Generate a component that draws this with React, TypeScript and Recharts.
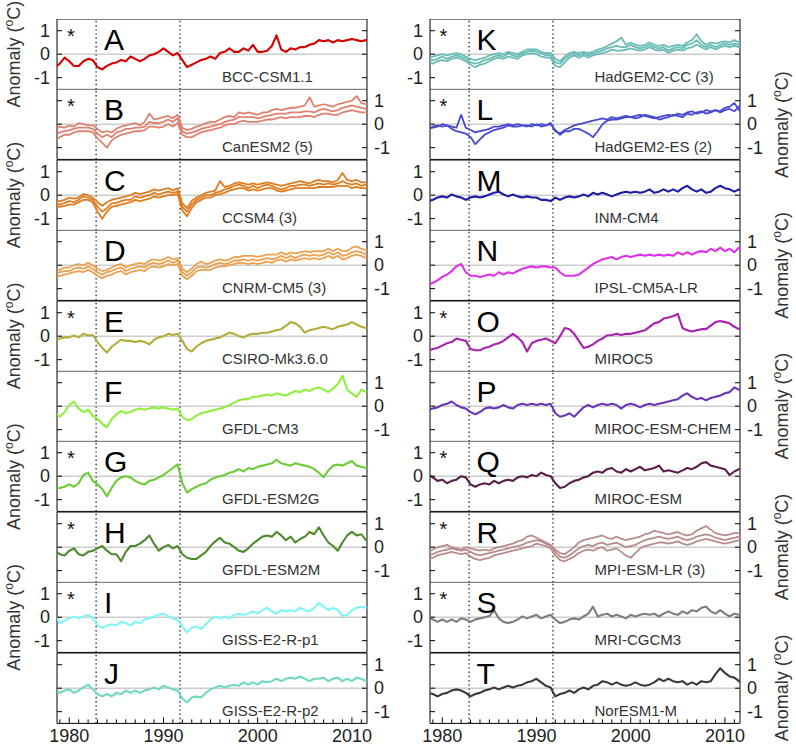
import React from "react";
import { LineChart, Line, XAxis, YAxis, ReferenceLine, ReferenceArea } from "recharts";

// x grid: half-year steps from 1978.5 to 2012.0 (68 points)
const YEARS: number[] = Array.from({ length: 68 }, (_, i) => 1978.5 + i * 0.5);
const X_DOMAIN: [number, number] = [1978.7, 2011.6];
const Y_DOMAIN: [number, number] = [-1.5, 1.5];
const YEAR_LABELS = [1980, 1990, 2000, 2010];
const MINOR_YEARS = Array.from({ length: 33 }, (_, i) => 1979 + i);
const Y_TICKS = [-1, 0, 1];
const ERUPTIONS = [1982.85, 1991.75];

// ---- series (anomaly, °C) ----
const A_BCC = [-0.55,-0.4,-0.15,
 -0.3,-0.5,-0.5,-0.3,-0.2, -0.25,-0.55,-0.65,-0.5,-0.4, -0.35,-0.25,-0.3,-0.1,-0.2, -0.3,-0.2,-0.05,0.0,0.1,
 0.25,0.1,-0.05,0.05,-0.25, -0.55,-0.45,-0.35,-0.25,-0.2, -0.1,-0.2,0.05,0.1,0.25, 0.1,0.1,0.25,0.15,0.4,
 0.1,0.1,0.15,0.35,0.8, 0.2,0.1,0.25,0.2,0.3, 0.3,0.4,0.45,0.6,0.55, 0.6,0.5,0.6,0.55,0.6,
 0.65,0.6,0.55,0.6,0.55];
const B_CAN1 = [-0.25,-0.1,-0.15,
 -0.05,-0.1,0.05,0.0,-0.05, -0.05,-0.2,-0.35,-0.3,-0.35, -0.2,-0.1,-0.05,0.0,0.05, -0.05,0.1,0.45,0.2,0.25,
 0.3,0.35,0.25,0.4,-0.15, -0.25,-0.2,-0.1,-0.05,0.05, 0.1,0.1,0.2,0.3,0.35, 0.3,0.5,0.45,0.5,0.45,
 0.4,0.5,0.5,0.6,0.65, 0.6,0.65,0.7,0.7,0.75, 0.8,1.15,0.75,0.8,0.85, 0.8,0.75,0.85,0.9,0.95,
 1.0,1.2,0.9,0.85,0.8];
const B_CAN2 = [-0.45,-0.35,-0.3,
 -0.25,-0.2,-0.15,-0.15,-0.15, -0.2,-0.4,-0.55,-0.45,-0.55, -0.35,-0.3,-0.2,-0.2,-0.15, -0.15,-0.1,0.1,0.05,0.05,
 0.1,0.2,0.1,0.25,-0.3, -0.4,-0.35,-0.3,-0.2,-0.15, -0.1,-0.05,0.0,0.1,0.15, 0.2,0.3,0.3,0.3,0.3,
 0.25,0.3,0.35,0.4,0.45, 0.45,0.45,0.5,0.5,0.5, 0.55,0.55,0.5,0.6,0.65, 0.6,0.55,0.6,0.7,0.75,
 0.8,0.75,0.7,0.65,0.65];
const B_CAN3 = [-0.7,-0.55,-0.45,
 -0.45,-0.35,-0.3,-0.3,-0.3, -0.35,-0.6,-0.8,-1.0,-0.7, -0.55,-0.45,-0.4,-0.35,-0.3, -0.3,-0.25,-0.1,-0.1,-0.15,
 -0.1,0.0,-0.1,0.05,-0.45, -0.55,-0.55,-0.45,-0.35,-0.3, -0.25,-0.2,-0.15,-0.05,0.0, 0.0,0.1,0.15,0.1,0.1,
 0.1,0.15,0.2,0.2,0.25, 0.3,0.25,0.3,0.3,0.3, 0.35,0.35,0.3,0.4,0.45, 0.45,0.4,0.4,0.5,0.55,
 0.6,0.55,0.5,0.5,0.45];
const C_CCSM1 = [-0.2,-0.25,-0.2,
 -0.1,-0.15,-0.1,0.05,0.0, -0.1,-0.3,-0.45,-0.3,-0.2, -0.15,-0.1,-0.05,0.0,0.1, 0.05,0.1,0.15,0.25,0.2,
 0.25,0.3,0.2,0.3,-0.35, -0.55,-0.25,-0.1,0.0,0.1, 0.15,0.2,0.6,0.35,0.4, 0.5,0.55,0.5,0.45,0.5,
 0.45,0.5,0.55,0.5,0.45, 0.4,0.45,0.5,0.55,0.6, 0.55,0.5,0.6,0.65,0.6, 0.6,0.55,0.65,0.95,0.65,
 0.6,0.65,0.55,0.55,0.55];
const C_CCSM2 = [-0.33,-0.4,-0.33,
 -0.25,-0.3,-0.2,-0.05,-0.1, -0.2,-0.5,-0.7,-0.55,-0.35, -0.33,-0.25,-0.2,-0.2,-0.05, -0.1,-0.05,0.0,0.1,0.03,
 0.1,0.15,0.1,0.15,-0.5, -0.7,-0.4,-0.2,-0.1,0.0, 0.0,0.1,0.15,0.25,0.3, 0.4,0.45,0.4,0.3,0.4,
 0.3,0.4,0.45,0.4,0.3, 0.25,0.3,0.4,0.4,0.45, 0.45,0.4,0.45,0.5,0.45, 0.5,0.45,0.5,0.6,0.5,
 0.45,0.5,0.4,0.45,0.45];
const C_CCSM3 = [-0.45,-0.5,-0.45,
 -0.4,-0.4,-0.3,-0.2,-0.2, -0.3,-0.7,-1.0,-0.7,-0.5, -0.45,-0.4,-0.35,-0.3,-0.2, -0.25,-0.2,-0.15,-0.05,-0.1,
 -0.05,0.0,0.0,0.05,-0.65, -0.9,-0.55,-0.3,-0.2,-0.1, -0.1,0.0,0.05,0.1,0.2, 0.25,0.3,0.3,0.2,0.25,
 0.2,0.25,0.3,0.3,0.2, 0.15,0.2,0.25,0.3,0.3, 0.3,0.3,0.3,0.35,0.35, 0.35,0.35,0.4,0.4,0.4,
 0.3,0.35,0.3,0.3,0.35];
const D_CNRM1 = [-0.25,-0.2,-0.1,
 -0.1,0.0,0.05,0.0,0.1, 0.0,-0.15,-0.25,-0.2,-0.1, 0.0,0.05,-0.1,0.0,0.05, 0.1,0.05,0.2,0.25,0.2,
 0.25,0.35,0.25,0.3,-0.15, -0.3,-0.15,0.05,0.15,0.05, 0.1,0.2,0.25,0.2,0.25, 0.35,0.35,0.4,0.4,0.4,
 0.35,0.4,0.45,0.45,0.45, 0.55,0.45,0.55,0.5,0.55, 0.6,0.55,0.6,0.6,0.6, 0.7,0.6,0.7,0.6,0.6,
 0.75,0.8,0.7,0.65,0.7];
const D_CNRM2 = [-0.4,-0.3,-0.25,
 -0.25,-0.15,-0.1,-0.15,-0.05, -0.15,-0.3,-0.4,-0.3,-0.25, -0.15,-0.1,-0.25,-0.15,-0.1, -0.05,-0.1,0.05,0.1,0.05,
 0.1,0.2,0.1,0.2,-0.3, -0.45,-0.3,-0.1,-0.05,-0.1, -0.05,0.05,0.1,0.05,0.1, 0.2,0.2,0.25,0.2,0.25,
 0.2,0.25,0.3,0.25,0.3, 0.4,0.3,0.4,0.3,0.4, 0.45,0.4,0.45,0.4,0.45, 0.55,0.45,0.55,0.4,0.45,
 0.55,0.6,0.55,0.45,0.55];
const D_CNRM3 = [-0.55,-0.45,-0.4,
 -0.35,-0.3,-0.25,-0.3,-0.2, -0.3,-0.45,-0.55,-0.45,-0.4, -0.3,-0.25,-0.4,-0.3,-0.25, -0.2,-0.25,-0.1,-0.05,-0.1,
 -0.05,0.05,0.0,0.05,-0.45, -0.6,-0.45,-0.25,-0.2,-0.2, -0.2,-0.1,-0.05,-0.05,0.0, 0.05,0.1,0.1,0.05,0.1,
 0.05,0.1,0.15,0.1,0.2, 0.25,0.15,0.25,0.2,0.25, 0.3,0.25,0.3,0.25,0.3, 0.4,0.3,0.4,0.25,0.3,
 0.4,0.45,0.4,0.3,0.4];
const E_CSIRO = [-0.2,-0.1,-0.05,
 -0.05,0.03,-0.05,0.1,0.03, 0.05,-0.25,-0.5,-0.7,-0.45, -0.3,-0.15,-0.2,-0.2,-0.25, -0.2,-0.25,-0.35,-0.15,-0.05,
 0.0,0.1,0.05,0.1,-0.2, -0.55,-0.65,-0.45,-0.3,-0.2, -0.15,-0.1,-0.05,0.05,0.15, 0.1,0.0,-0.05,0.05,0.1,
 0.1,0.15,0.15,0.2,0.25, 0.3,0.45,0.6,0.55,0.4, 0.15,0.25,0.3,0.35,0.4, 0.35,0.3,0.4,0.45,0.5,
 0.6,0.5,0.4,0.35,0.3];
const F_GFDLCM3 = [-0.3,-0.45,-0.25,
 0.05,0.2,-0.1,-0.25,-0.15, -0.4,-0.55,-0.75,-0.9,-0.55, -0.35,-0.2,-0.3,-0.25,-0.15, -0.1,-0.15,-0.1,-0.05,-0.1,
 -0.05,-0.1,-0.15,-0.1,-0.45, -0.6,-0.55,-0.4,-0.3,-0.25, -0.2,-0.15,-0.1,-0.05,0.05, 0.15,0.25,0.3,0.3,0.4,
 0.4,0.45,0.5,0.45,0.55, 0.5,0.45,0.55,0.65,0.6, 0.7,0.65,0.75,0.8,0.7, 0.6,0.75,0.95,1.3,0.7,
 0.55,0.4,0.7,0.6,0.7];
const G_ESM2G = [-0.5,-0.5,-0.45,
 -0.35,-0.45,-0.3,0.05,0.15, -0.2,-0.35,-0.55,-0.85,-0.5, -0.2,-0.05,0.0,-0.05,-0.2, -0.3,-0.35,-0.2,-0.15,-0.05,
 0.05,0.2,0.35,0.5,-0.3, -0.7,-0.55,-0.45,-0.35,-0.3, -0.15,-0.05,0.0,0.05,0.15, 0.2,0.3,0.2,0.35,0.3,
 0.4,0.45,0.5,0.55,0.7, 0.55,0.5,0.45,0.55,0.5, 0.45,0.4,0.3,0.15,-0.05, 0.25,0.45,0.5,0.45,0.55,
 0.65,0.45,0.4,0.35,0.4];
const H_ESM2M = [-0.15,-0.3,-0.35,
 -0.15,-0.05,-0.3,-0.35,-0.2, -0.15,-0.05,0.05,-0.15,-0.3, -0.3,-0.6,-0.2,0.05,0.05, 0.15,0.3,0.5,0.15,-0.15,
 0.0,0.1,-0.05,0.05,-0.3, -0.45,-0.5,-0.5,-0.35,-0.2, 0.05,0.25,0.4,0.2,0.15, 0.0,-0.15,-0.2,-0.05,0.15,
 0.3,0.45,0.5,0.45,0.65, 0.5,0.3,0.45,0.2,0.35, 0.45,0.65,0.55,0.85,0.5, 0.2,0.05,-0.15,0.2,0.5,
 0.65,0.5,0.55,0.3,0.15];
const I_GISSP1 = [0.05,-0.25,-0.15,
 -0.05,0.03,-0.05,0.03,0.1, -0.05,-0.35,-0.45,-0.35,-0.3, -0.35,-0.2,-0.25,-0.35,-0.2, -0.25,-0.1,-0.05,0.03,0.1,
 0.15,0.03,-0.05,-0.1,-0.4, -0.65,-0.45,-0.4,-0.5,-0.3, -0.1,0.03,-0.05,0.03,-0.05, 0.1,0.15,0.1,0.15,0.25,
 0.15,0.3,0.4,0.25,0.15, 0.3,0.25,0.3,0.25,0.4, 0.3,0.25,0.4,0.6,0.45, 0.3,0.4,0.3,0.05,0.1,
 0.3,0.4,0.45,0.4,0.45];
const J_GISSP2 = [-0.1,-0.2,-0.1,
 -0.05,-0.2,-0.1,0.03,0.15, -0.05,-0.25,-0.35,-0.25,-0.35, -0.2,-0.25,-0.1,-0.2,-0.1, -0.2,-0.1,-0.05,0.03,-0.05,
 0.1,0.03,-0.05,-0.1,-0.45, -0.6,-0.4,-0.35,-0.4,-0.2, -0.05,0.03,0.1,0.03,0.1, 0.15,0.1,0.25,0.15,0.25,
 0.15,0.3,0.25,0.3,0.4, 0.3,0.4,0.45,0.4,0.5, 0.4,0.3,0.4,0.4,0.45, 0.3,0.4,0.45,0.3,0.4,
 0.3,0.45,0.4,0.3,0.4];
const K_HADCC1 = [-0.15,-0.1,-0.05,
 0.0,-0.05,0.0,0.05,0.0, -0.1,-0.2,-0.25,-0.2,-0.15, -0.05,0.0,0.05,0.0,0.1, 0.05,0.0,0.1,0.2,0.2,
 0.2,0.1,0.05,0.05,-0.2, -0.3,-0.1,0.05,0.1,0.05, 0.1,0.05,0.1,0.2,0.25, 0.35,0.45,0.55,0.7,0.4,
 0.5,0.4,0.35,0.4,0.5, 0.4,0.35,0.4,0.3,0.35, 0.4,0.35,0.5,0.6,0.85, 0.55,0.4,0.5,0.45,0.5,
 0.55,0.5,0.6,0.5,0.55];
const K_HADCC2 = [-0.25,-0.25,-0.2,
 -0.1,-0.2,-0.1,-0.05,-0.1, -0.2,-0.35,-0.4,-0.35,-0.25, -0.2,-0.1,-0.05,-0.1,0.03, -0.05,-0.1,0.03,0.1,0.15,
 0.1,0.03,-0.05,-0.05,-0.35, -0.4,-0.2,-0.05,0.03,-0.05, 0.03,-0.05,0.03,0.1,0.15, 0.25,0.3,0.35,0.3,0.3,
 0.4,0.3,0.25,0.3,0.4, 0.3,0.25,0.3,0.15,0.25, 0.3,0.25,0.4,0.45,0.6, 0.4,0.3,0.4,0.3,0.4,
 0.45,0.4,0.45,0.4,0.45];
const K_HADCC3 = [-0.35,-0.4,-0.3,
 -0.25,-0.3,-0.2,-0.15,-0.2, -0.3,-0.45,-0.55,-0.45,-0.4, -0.3,-0.2,-0.15,-0.2,-0.1, -0.15,-0.2,-0.05,0.0,0.05,
 0.0,-0.1,-0.15,-0.15,-0.5, -0.55,-0.35,-0.15,-0.05,-0.15, -0.05,-0.15,-0.05,0.0,0.05, 0.1,0.2,0.15,0.15,0.2,
 0.25,0.2,0.15,0.2,0.3, 0.2,0.15,0.2,0.05,0.15, 0.2,0.15,0.25,0.3,0.4, 0.3,0.2,0.3,0.2,0.3,
 0.35,0.3,0.35,0.3,0.35];
const L_HADES1 = [-0.2,-0.1,-0.05,
 -0.1,-0.05,-0.1,-0.15,0.4, -0.15,-0.25,-0.35,-0.3,-0.25, -0.2,-0.1,-0.1,-0.05,0.0, -0.05,0.0,-0.05,-0.1,0.0,
 -0.05,0.0,-0.05,0.05,-0.3, -0.4,-0.25,-0.15,-0.05,0.0, 0.05,0.1,0.15,0.2,0.25, 0.2,0.3,0.25,0.3,0.35,
 0.3,0.35,0.4,0.35,0.3, 0.25,0.3,0.35,0.4,0.35, 0.45,0.4,0.5,0.55,0.45, 0.5,0.6,0.55,0.6,0.5,
 0.6,0.65,0.55,0.75,0.7];
const L_HADES2 = [-0.2,-0.15,-0.1,
 0.0,-0.05,-0.2,-0.3,-0.35, -0.4,-0.55,-0.85,-0.65,-0.45, -0.35,-0.25,-0.2,-0.15,-0.05, -0.1,-0.1,-0.05,-0.05,-0.1,
 0.0,-0.1,-0.05,0.0,-0.25, -0.45,-0.3,-0.3,-0.2,-0.2, -0.3,-0.4,-0.55,-0.3,0.0, 0.15,0.2,0.2,0.25,0.3,
 0.3,0.25,0.3,0.4,0.35, 0.3,0.2,0.25,0.3,0.4, 0.35,0.3,0.45,0.4,0.5, 0.55,0.45,0.5,0.6,0.55,
 0.7,0.75,0.9,0.6,0.5];
const M_INM = [-0.25,-0.2,-0.1,
 -0.05,-0.1,0.03,-0.05,-0.1, -0.2,-0.1,-0.05,-0.1,-0.05, 0.03,0.1,0.15,0.03,-0.05, 0.03,-0.05,-0.1,-0.05,-0.1,
 -0.1,-0.2,-0.2,-0.25,-0.1, -0.2,-0.1,-0.05,-0.1,-0.05, 0.03,-0.05,0.1,0.03,0.1, 0.03,-0.05,0.03,0.1,0.15,
 0.1,0.15,0.1,0.15,0.25, 0.1,0.15,0.25,0.15,0.25, 0.15,0.3,0.4,0.25,0.15, 0.25,0.1,0.15,0.3,0.4,
 0.3,0.25,0.15,0.25,0.15];
const N_IPSL = [-0.85,-0.75,-0.65,
 -0.5,-0.4,-0.25,-0.05,0.05, -0.3,-0.45,-0.45,-0.5,-0.45, -0.4,-0.45,-0.3,-0.4,-0.3, -0.35,-0.25,-0.15,-0.1,-0.05,
 -0.1,-0.05,-0.05,-0.1,-0.1, -0.3,-0.45,-0.45,-0.45,-0.4, -0.25,-0.1,0.05,0.15,0.25, 0.3,0.35,0.25,0.35,0.4,
 0.35,0.4,0.45,0.4,0.45, 0.4,0.45,0.4,0.45,0.4, 0.55,0.45,0.55,0.45,0.55, 0.6,0.55,0.7,0.6,0.75,
 0.6,0.7,0.55,0.75,0.7];
const O_MIROC5 = [-0.6,-0.55,-0.5,
 -0.4,-0.3,-0.25,-0.1,-0.15, -0.2,-0.55,-0.6,-0.6,-0.5, -0.45,-0.35,-0.3,-0.2,-0.05, 0.1,-0.05,-0.25,-0.65,-0.3,
 -0.2,-0.15,-0.1,-0.2,-0.3, 0.0,0.35,0.3,0.1,-0.2, -0.5,-0.45,-0.35,-0.2,-0.1, 0.03,0.05,0.1,0.05,0.1,
 0.1,0.15,0.2,0.25,0.4, 0.55,0.6,0.75,0.8,0.85, 0.95,0.35,0.25,0.2,0.25, 0.3,0.3,0.45,0.6,0.65,
 0.6,0.55,0.4,0.3,0.3];
const P_MIROCCHEM = [-0.15,-0.1,-0.05,
 0.05,0.1,0.2,0.05,-0.05, -0.1,-0.25,-0.35,-0.25,-0.1, -0.05,-0.1,-0.05,0.05,-0.05, -0.1,0.05,0.1,0.05,0.1,
 0.05,0.1,0.05,0.1,-0.3, -0.45,-0.4,-0.3,-0.45,-0.25, -0.05,0.05,-0.05,0.05,0.1, 0.05,0.1,0.05,-0.1,0.05,
 0.1,0.05,-0.05,0.05,0.1, 0.05,0.1,0.15,0.2,0.25, 0.3,0.45,0.55,0.4,0.3, 0.35,0.25,0.35,0.4,0.45,
 0.55,0.6,0.8,0.7,0.55];
const Q_MIROCESM = [0.05,-0.05,-0.2,
 -0.15,-0.3,-0.2,-0.15,0.0, -0.05,-0.35,-0.45,-0.35,-0.3, -0.35,-0.2,-0.3,-0.2,-0.15, -0.2,-0.05,0.0,-0.05,0.05,
 0.0,0.15,0.05,0.0,-0.3, -0.5,-0.45,-0.3,-0.2,-0.15, -0.05,0.0,0.15,0.2,0.15, 0.3,0.35,0.2,0.15,0.3,
 0.2,0.3,0.4,0.25,0.3, 0.35,0.45,0.2,0.25,0.2, 0.15,0.25,0.35,0.3,0.4, 0.55,0.6,0.45,0.4,0.35,
 0.3,0.05,0.2,0.3,0.35];
const R_MPI1 = [-0.2,-0.1,0.0,
 0.05,0.1,0.0,-0.05,-0.1, 0.0,-0.05,-0.1,-0.15,-0.1, -0.15,-0.05,0.0,0.05,0.1, 0.15,0.25,0.3,0.45,0.5,
 0.4,0.3,0.2,0.1,-0.1, -0.25,-0.3,-0.15,0.0,0.2, 0.3,0.35,0.4,0.45,0.5, 0.4,0.35,0.45,0.35,0.3,
 0.35,0.4,0.45,0.55,0.6, 0.7,0.65,0.6,0.55,0.6, 0.65,0.55,0.5,0.55,0.7, 0.8,0.9,0.75,0.6,0.55,
 0.5,0.55,0.6,0.6,0.55];
const R_MPI2 = [-0.35,-0.3,-0.2,
 -0.15,-0.1,-0.05,-0.1,-0.15, -0.1,-0.2,-0.3,-0.35,-0.3, -0.25,-0.2,-0.15,-0.1,-0.05, 0.0,0.05,0.1,0.2,0.25,
 0.3,0.25,0.15,0.05,-0.2, -0.4,-0.45,-0.35,-0.2,-0.05, 0.05,0.1,0.05,0.15,0.2, 0.1,0.15,0.2,0.1,0.0,
 0.05,0.1,0.2,0.3,0.35, 0.4,0.45,0.4,0.35,0.4, 0.45,0.35,0.3,0.35,0.45, 0.5,0.55,0.5,0.4,0.35,
 0.3,0.35,0.4,0.45,0.4];
const R_MPI3 = [-0.5,-0.45,-0.35,
 -0.3,-0.25,-0.2,-0.25,-0.3, -0.25,-0.4,-0.5,-0.55,-0.5, -0.45,-0.35,-0.3,-0.25,-0.2, -0.15,-0.1,-0.05,0.0,0.05,
 0.15,0.1,0.05,-0.05,-0.35, -0.55,-0.6,-0.5,-0.4,-0.25, -0.15,-0.1,-0.15,-0.05,0.0, -0.15,-0.1,-0.05,-0.2,-0.35,
 -0.45,-0.25,-0.05,0.05,0.1, 0.15,0.2,0.2,0.15,0.2, 0.25,0.15,0.1,0.15,0.25, 0.3,0.35,0.3,0.25,0.2,
 0.15,0.2,0.25,0.3,0.25];
const S_MRI = [0.0,-0.1,-0.2,
 -0.1,-0.2,-0.1,-0.2,-0.05, -0.1,-0.2,-0.1,-0.05,0.0, 0.05,0.3,-0.05,-0.2,-0.25, -0.2,-0.1,0.03,-0.05,0.03,
 0.1,-0.05,0.03,0.1,-0.1, -0.25,-0.2,-0.1,-0.05,-0.1, 0.03,0.15,0.45,0.03,0.1, 0.15,0.03,0.1,0.03,-0.05,
 0.1,0.03,0.1,0.15,0.1, 0.15,0.03,0.15,0.25,0.15, 0.1,0.25,0.15,0.3,0.25, 0.4,0.45,0.25,0.15,0.3,
 0.15,0.03,0.15,0.1,0.15];
const T_NORESM = [-0.2,-0.25,-0.35,
 -0.25,-0.2,-0.1,-0.05,-0.1, -0.2,-0.35,-0.25,-0.2,-0.1, -0.05,0.03,-0.05,0.03,0.1, 0.03,0.1,0.15,0.25,0.3,
 0.4,0.25,0.1,0.03,-0.35, -0.25,-0.2,-0.1,-0.2,-0.05, 0.03,-0.05,0.1,0.15,0.3, 0.25,0.15,0.25,0.15,0.1,
 0.15,0.25,0.15,0.1,0.15, 0.25,0.4,0.3,0.4,0.3, 0.25,0.3,0.15,0.25,0.15, 0.3,0.25,0.3,0.6,0.85,
 0.65,0.5,0.45,0.3,0.1];

type PanelDef = { id: string; name: string; color: string; star: boolean; col: number; row: number; series: number[][] };

const PANELS: PanelDef[] = [
  { id: "A", name: "BCC-CSM1.1", color: "#d40000", star: true, col: 0, row: 0, series: [A_BCC] },
  { id: "B", name: "CanESM2 (5)", color: "#e0806f", star: true, col: 0, row: 1, series: [B_CAN1, B_CAN2, B_CAN3] },
  { id: "C", name: "CCSM4 (3)", color: "#e07c1e", star: false, col: 0, row: 2, series: [C_CCSM1, C_CCSM2, C_CCSM3] },
  { id: "D", name: "CNRM-CM5 (3)", color: "#eba150", star: false, col: 0, row: 3, series: [D_CNRM1, D_CNRM2, D_CNRM3] },
  { id: "E", name: "CSIRO-Mk3.6.0", color: "#b3ab3a", star: true, col: 0, row: 4, series: [E_CSIRO] },
  { id: "F", name: "GFDL-CM3", color: "#8ef03c", star: false, col: 0, row: 5, series: [F_GFDLCM3] },
  { id: "G", name: "GFDL-ESM2G", color: "#6ccc34", star: true, col: 0, row: 6, series: [G_ESM2G] },
  { id: "H", name: "GFDL-ESM2M", color: "#4e8a2c", star: true, col: 0, row: 7, series: [H_ESM2M] },
  { id: "I", name: "GISS-E2-R-p1", color: "#7ff5f5", star: true, col: 0, row: 8, series: [I_GISSP1] },
  { id: "J", name: "GISS-E2-R-p2", color: "#72d8c0", star: false, col: 0, row: 9, series: [J_GISSP2] },
  { id: "K", name: "HadGEM2-CC (3)", color: "#6abcb6", star: true, col: 1, row: 0, series: [K_HADCC1, K_HADCC2, K_HADCC3] },
  { id: "L", name: "HadGEM2-ES (2)", color: "#4848d0", star: true, col: 1, row: 1, series: [L_HADES1, L_HADES2] },
  { id: "M", name: "INM-CM4", color: "#1c1ca8", star: false, col: 1, row: 2, series: [M_INM] },
  { id: "N", name: "IPSL-CM5A-LR", color: "#e030e8", star: false, col: 1, row: 3, series: [N_IPSL] },
  { id: "O", name: "MIROC5", color: "#a820ae", star: true, col: 1, row: 4, series: [O_MIROC5] },
  { id: "P", name: "MIROC-ESM-CHEM", color: "#6a36b8", star: false, col: 1, row: 5, series: [P_MIROCCHEM] },
  { id: "Q", name: "MIROC-ESM", color: "#5a1e4a", star: true, col: 1, row: 6, series: [Q_MIROCESM] },
  { id: "R", name: "MPI-ESM-LR (3)", color: "#b88c8c", star: true, col: 1, row: 7, series: [R_MPI1, R_MPI2, R_MPI3] },
  { id: "S", name: "MRI-CGCM3", color: "#7e7e7e", star: true, col: 1, row: 8, series: [S_MRI] },
  { id: "T", name: "NorESM1-M", color: "#3a3a3a", star: false, col: 1, row: 9, series: [T_NORESM] },
];

// ---- layout ----
const COL_X = [57, 429.5];
const TOP = 19;
const PH = 70.4;
const PW = 310;
const AXW = 50;
const FONT = "'Liberation Sans', Arial, Helvetica, sans-serif";
const TICK_FS = 18;

function XTick(props: any) {
  const { x, y, payload, showLabel } = props;
  const v = payload.value as number;
  const major = YEAR_LABELS.includes(v);
  return (
    <g>
      <line x1={x} x2={x} y1={y} y2={y - (major ? 6 : 4)} stroke="#000" strokeWidth={1} />
      {showLabel && major ? (
        <text x={x} y={y + 19} textAnchor="middle" fontSize={TICK_FS} fontFamily={FONT} fill="#222">
          {v}
        </text>
      ) : null}
    </g>
  );
}

function YTick(props: any) {
  const { x, y, payload, side, show } = props;
  const v = payload.value as number;
  const dir = side === "left" ? 1 : -1;
  return (
    <g>
      <line x1={x} x2={x + dir * 5} y1={y} y2={y} stroke="#000" strokeWidth={1} />
      {show ? (
        <text
          x={x - dir * 7}
          y={y}
          dy="0.35em"
          textAnchor={side === "left" ? "end" : "start"}
          fontSize={TICK_FS}
          fontFamily={FONT}
          fill="#222"
        >
          {v}
        </text>
      ) : null}
    </g>
  );
}

function Panel({ p }: { p: PanelDef }) {
  const bottom = p.row === 9;
  const labelsLeft = p.row % 2 === 0;
  const data = YEARS.map((x, i) => {
    const r: any = { x };
    p.series.forEach((s, k) => {
      r["s" + k] = s[i];
    });
    return r;
  });
  const H = PH + (bottom ? 30 : 0);
  const multi = p.series.length > 1;
  return (
    <div style={{ position: "absolute", left: COL_X[p.col] - AXW, top: TOP + p.row * PH }}>
      <LineChart width={PW + 2 * AXW} height={H} data={data} margin={{ top: 0, right: 0, bottom: 0, left: 0 }}>
        <XAxis
          type="number"
          dataKey="x"
          domain={X_DOMAIN}
          allowDataOverflow
          ticks={MINOR_YEARS}
          interval={0}
          tickSize={0}
          tickMargin={0}
          axisLine={false}
          tickLine={false}
          height={bottom ? 30 : 0}
          tick={(pr: any) => <XTick {...pr} showLabel={bottom} />}
        />
        <YAxis
          yAxisId="l"
          orientation="left"
          width={AXW}
          domain={Y_DOMAIN}
          allowDataOverflow
          ticks={Y_TICKS}
          interval={0}
          tickSize={0}
          tickMargin={0}
          axisLine={false}
          tickLine={false}
          tick={(pr: any) => <YTick {...pr} side="left" show={labelsLeft} />}
        />
        <YAxis
          yAxisId="r"
          orientation="right"
          width={AXW}
          domain={Y_DOMAIN}
          allowDataOverflow
          ticks={Y_TICKS}
          interval={0}
          tickSize={0}
          tickMargin={0}
          axisLine={false}
          tickLine={false}
          tick={(pr: any) => <YTick {...pr} side="right" show={!labelsLeft} />}
        />
        <ReferenceLine yAxisId="l" y={0} stroke="#cdcdcd" strokeWidth={1.5} />
        {ERUPTIONS.map((e) => (
          <ReferenceLine key={e} yAxisId="l" x={e} stroke="#333" strokeWidth={1.4} strokeDasharray="1.4 2.8" />
        ))}
        {p.series.map((_, k) => (
          <Line
            key={k}
            yAxisId="l"
            type="linear"
            dataKey={"s" + k}
            stroke={p.color}
            strokeWidth={multi ? 1.8 : 2.1}
            strokeLinejoin="round"
            dot={false}
            activeDot={false}
            isAnimationActive={false}
          />
        ))}
        <ReferenceArea
          yAxisId="l"
          x1={X_DOMAIN[0]}
          x2={X_DOMAIN[1]}
          y1={Y_DOMAIN[0]}
          y2={Y_DOMAIN[1]}
          fill="none"
          fillOpacity={0}
          stroke="#000"
          strokeWidth={1}
          ifOverflow="visible"
        />
      </LineChart>
    </div>
  );
}

function AnomalyLabel({ cx, cy }: { cx: number; cy: number }) {
  return (
    <text
      transform={`translate(${cx},${cy}) rotate(-90)`}
      textAnchor="middle"
      dy="0.35em"
      fontSize={18}
      fontFamily={FONT}
      fill="#333"
    >
      Anomaly (
      <tspan dy={-7} fontSize={12}>
        o
      </tspan>
      <tspan dy={7}>C)</tspan>
    </text>
  );
}

export default function App() {
  return (
    <div style={{ position: "absolute", left: 0, top: 0, width: 796, height: 747, background: "#fff", overflow: "hidden" }}>
      {PANELS.map((p) => (
        <Panel key={p.id} p={p} />
      ))}
      <svg width={796} height={747} style={{ position: "absolute", left: 0, top: 0, pointerEvents: "none" }}>
        {PANELS.map((p) => {
          const px = COL_X[p.col];
          const py = TOP + p.row * PH;
          return (
            <g key={p.id}>
              {p.star ? (
                <text x={px + 10} y={py + 24} fontSize={20} fontFamily={FONT} fill="#111">
                  *
                </text>
              ) : null}
              <text x={px + 47} y={py + 31} fontSize={30} fontFamily={FONT} fill="#000">
                {p.id}
              </text>
              <text x={px + 165} y={py + 63} fontSize={15} fontFamily={FONT} fill="#333">
                {p.name}
              </text>
            </g>
          );
        })}
        {[0, 2, 4, 6, 8].map((r) => (
          <AnomalyLabel key={"l" + r} cx={14} cy={TOP + r * PH + PH / 2} />
        ))}
        {[1, 3, 5, 7, 9].map((r) => (
          <AnomalyLabel key={"r" + r} cx={782} cy={TOP + r * PH + PH / 2} />
        ))}
      </svg>
    </div>
  );
}
